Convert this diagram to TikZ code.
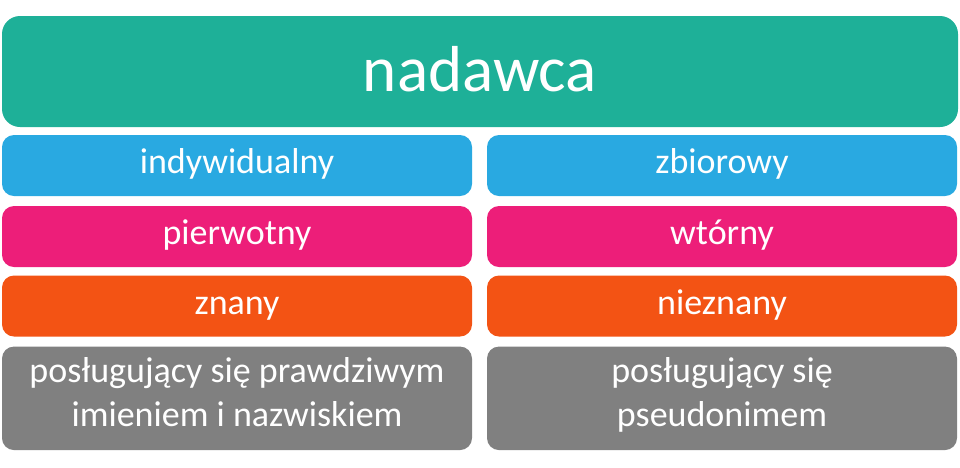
\documentclass[tikz,border=0pt]{standalone}
\usepackage{fontspec}
\setmainfont{Carlito}
\definecolor{cteal}{HTML}{1EB098}
\definecolor{cblue}{HTML}{29A9E1}
\definecolor{cpink}{HTML}{ED1E79}
\definecolor{corange}{HTML}{F35314}
\definecolor{cgray}{HTML}{808080}
\newcommand{\twolines}[2]{\raisebox{0pt}[30pt][62pt]{\begin{tabular}[t]{@{}c@{}}#1\\#2\end{tabular}}}
\begin{document}
\begin{tikzpicture}[x=1pt,y=-1pt,
  box/.style={rectangle, rounded corners=12pt, draw=none, text=white, inner sep=0pt,
    minimum width=470pt, font=\fontsize{36}{44.4}\selectfont},
  onel/.style={box, text height=24pt, text depth=8pt},
  topbox/.style={rectangle, rounded corners=18pt, draw=none, text=white, inner sep=0pt,
    minimum width=956pt, minimum height=111pt, fill=cteal, text height=45pt, text depth=6pt,
    font=\fontsize{65}{70}\selectfont}]
\useasboundingbox[fill=white] (0,0) rectangle (960,467);
\node[topbox] (top) at (480,71.5) {nadawca};
\node[onel, fill=cblue, minimum height=61pt] (l1) at (237,165.5) {indywidualny};
\node[onel, fill=cblue, minimum height=61pt] (r1) at (722,165.5) {zbiorowy};
\node[onel, fill=cpink, minimum height=61pt] (l2) at (237,236.5) {pierwotny};
\node[onel, fill=cpink, minimum height=61pt] (r2) at (722,236.5) {wtórny};
\node[onel, fill=corange, minimum height=61pt] (l3) at (237,306) {znany};
\node[onel, fill=corange, minimum height=61pt] (r3) at (722,306) {nieznany};
\node[box, fill=cgray, minimum height=103.5pt] (l4) at (237,398.3) {\twolines{posługujący się prawdziwym}{imieniem i nazwiskiem}};
\node[box, fill=cgray, minimum height=103.5pt] (r4) at (722,398.3) {\twolines{posługujący się}{pseudonimem}};
\end{tikzpicture}
\end{document}
